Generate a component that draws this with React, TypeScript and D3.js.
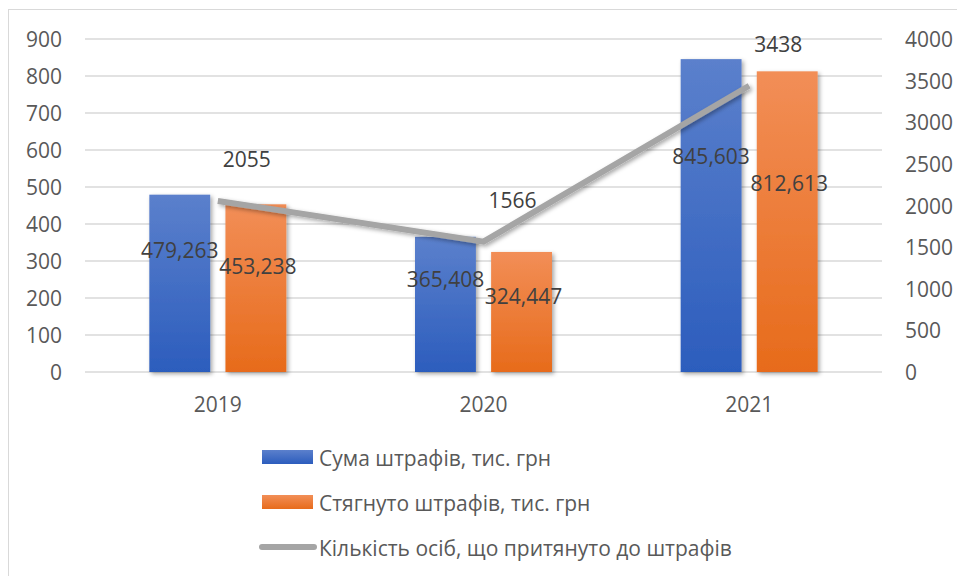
import React from "react";
import * as d3 from "d3";

const years = ["2019", "2020", "2021"];
const finesTotal = [479.263, 365.408, 845.603];
const finesCollected = [453.238, 324.447, 812.613];
const persons = [2055, 1566, 3438];
const finesTotalLabels = ["479,263", "365,408", "845,603"];
const finesCollectedLabels = ["453,238", "324,447", "812,613"];
const leftTicks = [0, 100, 200, 300, 400, 500, 600, 700, 800, 900];
const rightTicks = [0, 500, 1000, 1500, 2000, 2500, 3000, 3500, 4000];
const seriesNames = [
  "Сума штрафів, тис. грн",
  "Стягнуто штрафів, тис. грн",
  "Кількість осіб, що притянуто до штрафів",
];

const W = 957;
const H = 576;
const FONT = "'Open Sans', 'Liberation Sans', sans-serif";
const TXT = "#595959";
const LBL = "#404040";

export default function App() {
  const plotL = 85, plotR = 882, plotT = 39, plotB = 372;
  const x = d3.scaleBand<string>().domain(years).range([plotL, plotR]);
  const yL = d3.scaleLinear().domain([0, 900]).range([plotB, plotT]);
  const yR = d3.scaleLinear().domain([0, 4000]).range([plotB, plotT]);
  const groupW = 137;
  const sub = d3.scaleBand<string>().domain(["a", "b"]).range([-groupW / 2, groupW / 2]).paddingInner(0.2);
  const cx = (y: string) => (x(y) as number) + x.bandwidth() / 2;

  const line = d3
    .line<number>()
    .x((_, i) => cx(years[i]))
    .y((d) => yR(d));

  const fs = 21;

  return (
    <svg width={W} height={H} style={{ position: "absolute", left: 0, top: 0, background: "#fff" }}>
      <defs>
        <linearGradient id="gBlue" x1="0" y1="0" x2="0" y2="1">
          <stop offset="0%" stopColor="#5b80cc" />
          <stop offset="100%" stopColor="#2c5dbd" />
        </linearGradient>
        <linearGradient id="gOrange" x1="0" y1="0" x2="0" y2="1">
          <stop offset="0%" stopColor="#f28e57" />
          <stop offset="100%" stopColor="#e76b1b" />
        </linearGradient>
        <filter id="shadow" x="-20%" y="-20%" width="140%" height="140%">
          <feDropShadow dx="2" dy="2" stdDeviation="2" floodColor="#000" floodOpacity="0.35" />
        </filter>
      </defs>
      <rect x={0} y={0} width={W} height={H} fill="#fff" />
      <rect x={8.5} y={9.5} width={970} height={600} fill="none" stroke="#d9d9d9" strokeWidth={1} />

      {leftTicks.map((t) => (
        <line key={t} x1={plotL} x2={plotR} y1={yL(t)} y2={yL(t)} stroke="#d9d9d9" strokeWidth={1.3} />
      ))}

      {leftTicks.map((t) => (
        <text key={t} x={62} y={yL(t)} textAnchor="end" dominantBaseline="central" fontFamily={FONT} fontSize={fs} fill={TXT}>
          {t}
        </text>
      ))}
      {rightTicks.map((t) => (
        <text key={t} x={905} y={yR(t)} textAnchor="start" dominantBaseline="central" fontFamily={FONT} fontSize={fs} fill={TXT}>
          {t}
        </text>
      ))}
      {years.map((y) => (
        <text key={y} x={cx(y)} y={404} textAnchor="middle" dominantBaseline="central" fontFamily={FONT} fontSize={fs} fill={TXT}>
          {y}
        </text>
      ))}

      {years.map((y, i) => (
        <g key={y}>
          <rect
            x={cx(y) + (sub("a") as number)}
            y={yL(finesTotal[i])}
            width={sub.bandwidth()}
            height={yL(0) - yL(finesTotal[i])}
            fill="url(#gBlue)"
            filter="url(#shadow)"
          />
          <rect
            x={cx(y) + (sub("b") as number)}
            y={yL(finesCollected[i])}
            width={sub.bandwidth()}
            height={yL(0) - yL(finesCollected[i])}
            fill="url(#gOrange)"
            filter="url(#shadow)"
          />
        </g>
      ))}

      <path d={line(persons) || ""} fill="none" stroke="#a5a5a5" strokeWidth={6} strokeLinejoin="miter" filter="url(#shadow)" />

      {years.map((y, i) => (
        <g key={y}>
          <text
            x={cx(y) + (sub("a") as number) + sub.bandwidth() / 2}
            y={yL(finesTotal[i] * 0.69)}
            textAnchor="middle"
            dominantBaseline="central"
            fontFamily={FONT}
            fontSize={fs}
            fill={LBL}
          >
            {finesTotalLabels[i]}
          </text>
          <text
            x={cx(y) + (sub("b") as number) + sub.bandwidth() / 2 + 2}
            y={yL(finesCollected[i] * 0.63)}
            textAnchor="middle"
            dominantBaseline="central"
            fontFamily={FONT}
            fontSize={fs}
            fill={LBL}
          >
            {finesCollectedLabels[i]}
          </text>
        </g>
      ))}

      {years.map((y, i) => (
        <text key={y} x={cx(y) + 29} y={yR(persons[i]) - 42} textAnchor="middle" dominantBaseline="central" fontFamily={FONT} fontSize={fs} fill={LBL}>
          {persons[i]}
        </text>
      ))}

      <rect x={262} y={450} width={51} height={14} fill="url(#gBlue)" />
      <text x={319} y={458} dominantBaseline="central" fontFamily={FONT} fontSize={fs} fill={TXT}>
        {seriesNames[0]}
      </text>
      <rect x={262} y={495} width={51} height={14} fill="url(#gOrange)" />
      <text x={319} y={503} dominantBaseline="central" fontFamily={FONT} fontSize={fs} fill={TXT}>
        {seriesNames[1]}
      </text>
      <line x1={262} x2={314} y1={547} y2={547} stroke="#a5a5a5" strokeWidth={6} strokeLinecap="round" />
      <text x={319} y={548} dominantBaseline="central" fontFamily={FONT} fontSize={fs} fill={TXT}>
        {seriesNames[2]}
      </text>
    </svg>
  );
}
